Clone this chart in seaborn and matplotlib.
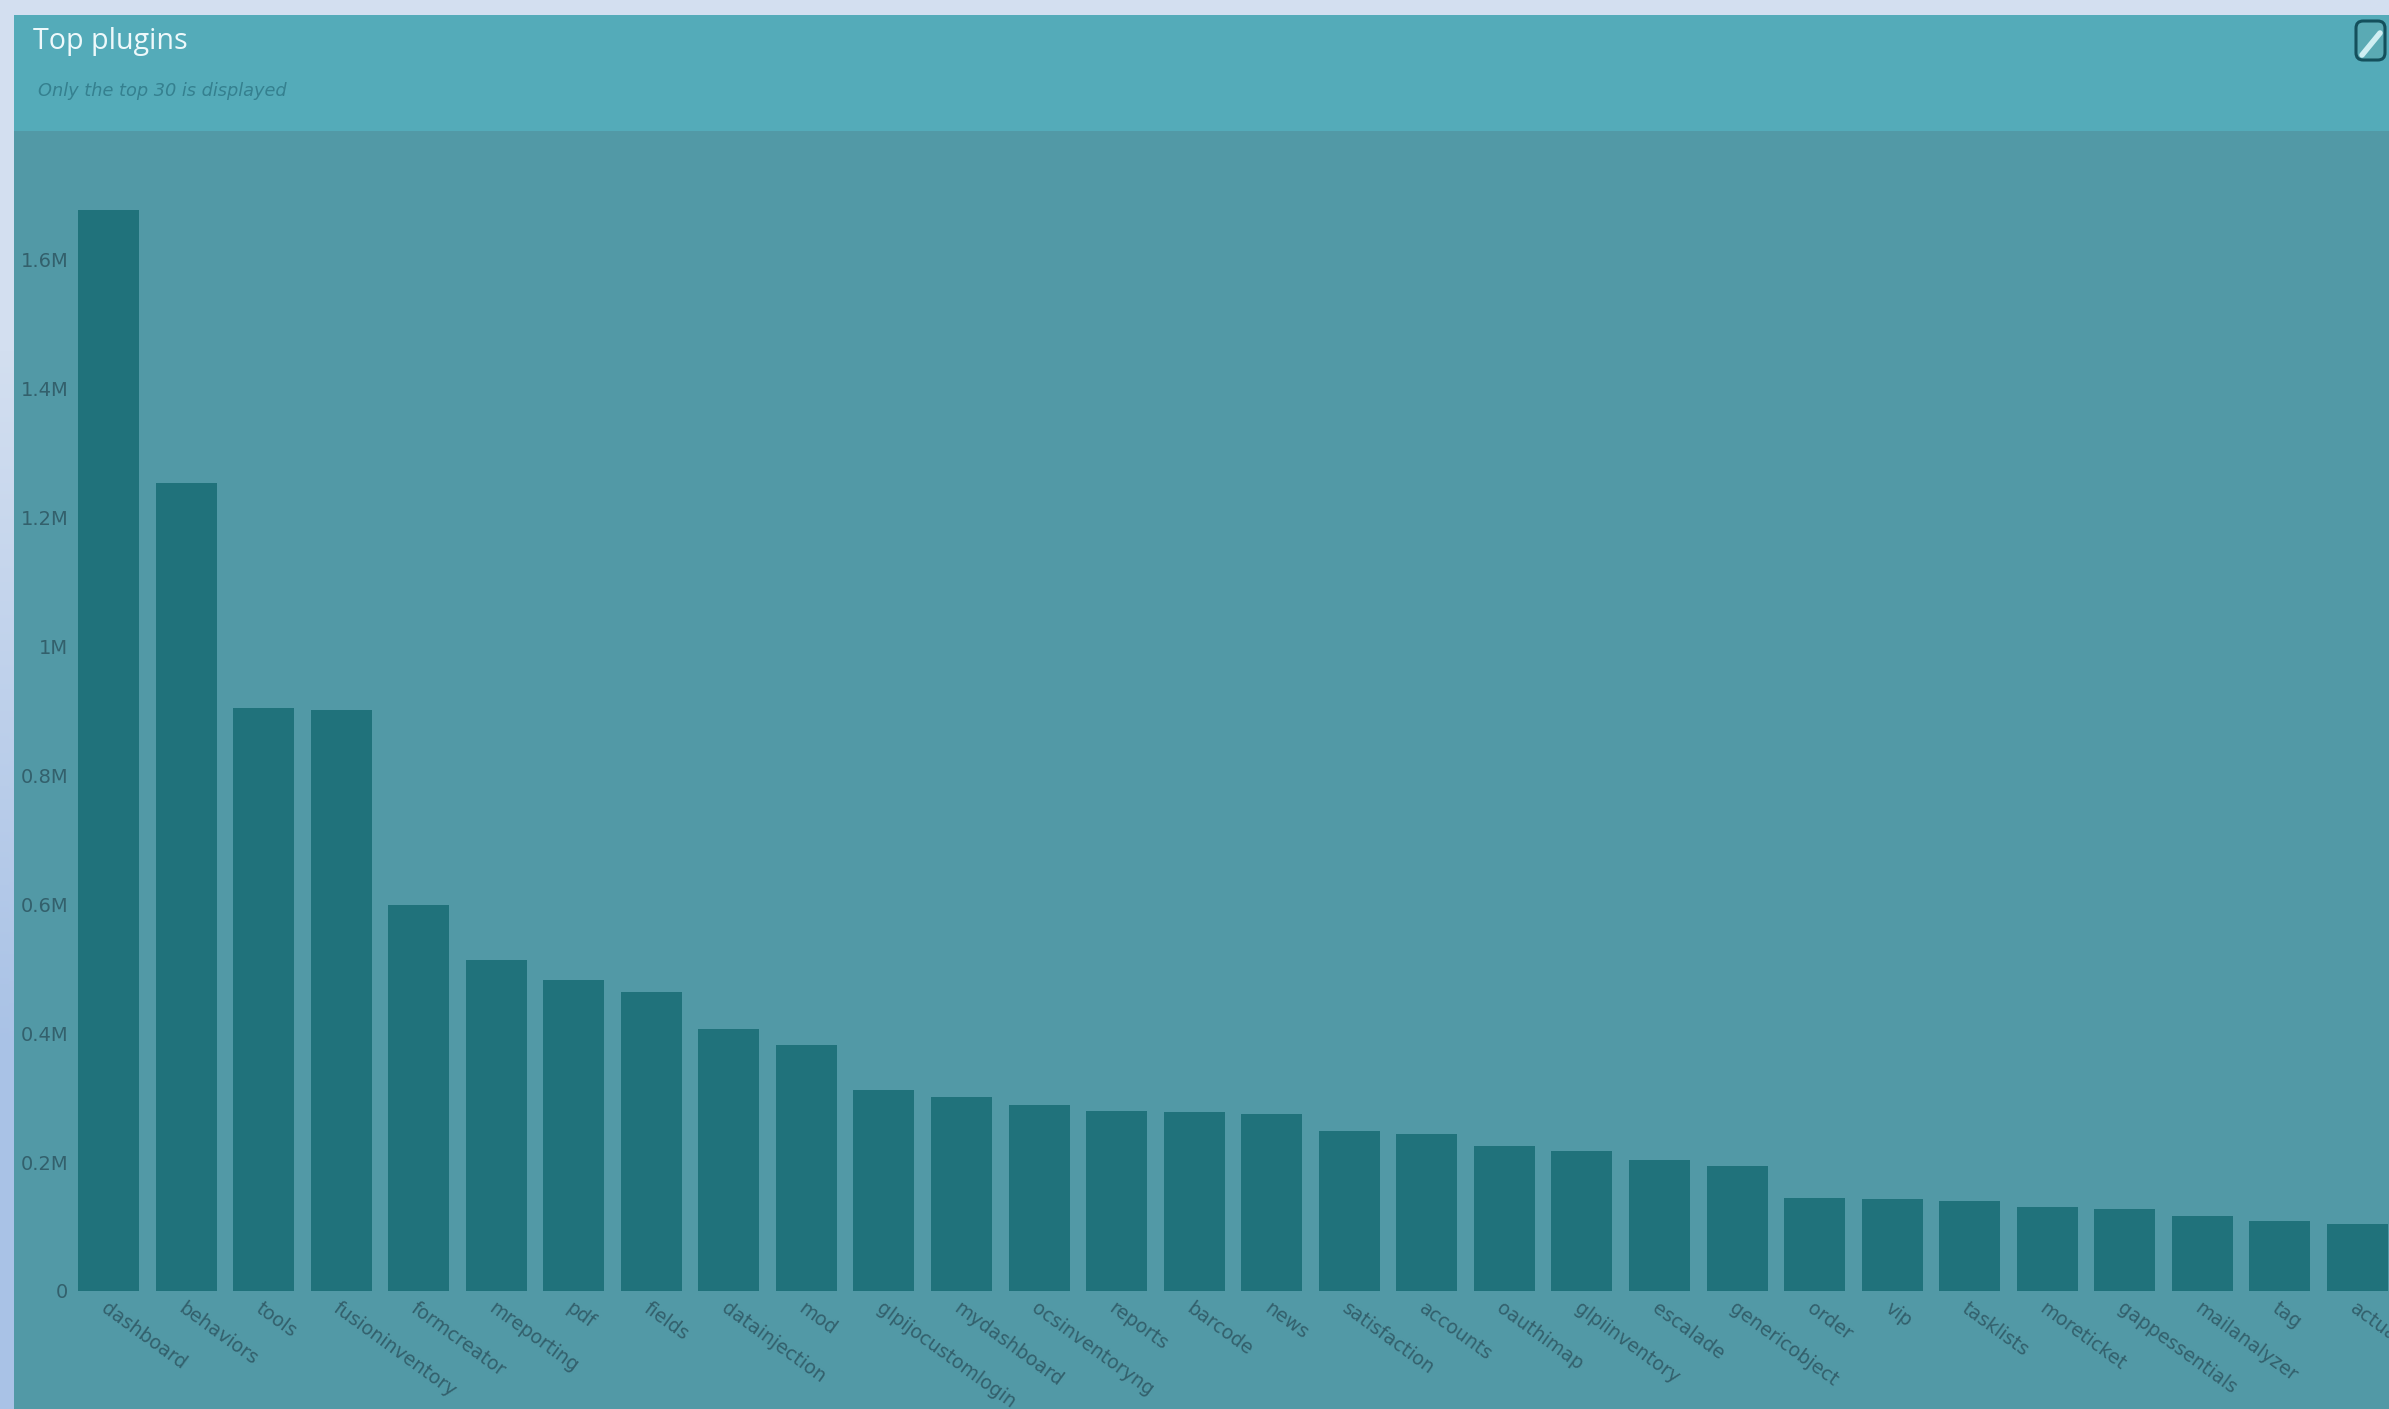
import matplotlib
matplotlib.use("Agg")
import matplotlib.pyplot as plt
from matplotlib.colors import LinearSegmentedColormap
from matplotlib.patches import Rectangle, FancyBboxPatch
from matplotlib.ticker import FuncFormatter
import numpy as np
import pandas as pd
import seaborn as sns

plugins = ["dashboard", "behaviors", "tools", "fusioninventory", "formcreator", "mreporting", "pdf",
           "fields", "datainjection", "mod", "glpijocustomlogin", "mydashboard", "ocsinventoryng",
           "reports", "barcode", "news", "satisfaction", "accounts", "oauthimap", "glpiinventory",
           "escalade", "genericobject", "order", "vip", "tasklists", "moreticket", "gappessentials",
           "mailanalyzer", "tag", "actualtime"]
installs = [1.678, 1.254, 0.904, 0.902, 0.599, 0.514, 0.483, 0.464, 0.407, 0.381,
            0.312, 0.301, 0.289, 0.279, 0.277, 0.275, 0.249, 0.244, 0.225, 0.218,
            0.204, 0.194, 0.144, 0.142, 0.140, 0.130, 0.128, 0.116, 0.109, 0.104]
y_ticks = [0, 0.2, 0.4, 0.6, 0.8, 1.0, 1.2, 1.4, 1.6]
title = "Top plugins"
subtitle = "Only the top 30 is displayed"

W, H = 2389, 1409
sns.set_theme(style="white")
plt.rcParams["font.family"] = ["DejaVu Sans"]
fig = plt.figure(figsize=(W / 100, H / 100), dpi=100, facecolor="#c3d3ea")

def fx(p): return p / W
def fy(p): return 1 - p / H

# page margin gradient
bg = fig.add_axes([0, 0, 1, 1], zorder=0)
bg.imshow(np.array([[0.0], [1.0]]), aspect="auto", extent=(0, 1, 0, 1), interpolation="bilinear",
          cmap=LinearSegmentedColormap.from_list("p", ["#d3dff0", "#a9c2e6"]))
bg.axis("off")

fig.add_artist(Rectangle((fx(14), 0), 1, fy(15), transform=fig.transFigure, fc="#5299a6", ec="none", zorder=1))
fig.add_artist(Rectangle((fx(14), fy(131)), 1, fy(15) - fy(131), transform=fig.transFigure, fc="#54abb9", ec="none", zorder=1))

x0, x1 = 69.7, 69.7 + 30 * 77.55
ax = fig.add_axes([fx(x0), fy(1291), fx(x1 - x0), fy(131) - fy(1291)], zorder=2)
ax.patch.set_alpha(0)
df = pd.DataFrame({"plugin": plugins, "installs": installs})
sns.barplot(data=df, x="plugin", y="installs", color="#20727b", saturation=1, width=0.787,
            linewidth=0, edgecolor="none", ax=ax)
ax.set_xlim(-0.5, 29.5)
ax.set_ylim(0, 1.8)
ax.set_xlabel("")
ax.set_ylabel("")
for s in ax.spines.values():
    s.set_visible(False)
ax.set_yticks(y_ticks)
ax.yaxis.set_major_formatter(FuncFormatter(lambda v, _: "0" if v == 0 else ("1M" if abs(v - 1) < 1e-6 else f"{v:.1f}M")))
ax.tick_params(axis="y", length=0, pad=1, labelsize=14, labelcolor="#33606c")
ax.tick_params(axis="x", length=0, pad=7, labelsize=13.6, labelcolor="#33606c")
ax.set_xticks(range(len(plugins)))
ax.set_xticklabels(plugins, rotation=-36, ha="left", va="top", rotation_mode="anchor")
for lab in ax.get_xticklabels():
    lab.set_transform(lab.get_transform() + matplotlib.transforms.ScaledTranslation(0.0, 0.02, fig.dpi_scale_trans))

fig.text(fx(33), fy(42), title, color="#eef9fb", fontsize=20.6, va="center", ha="left", family="Open Sans", zorder=3)
fig.text(fx(38), fy(91), subtitle, color="#35808f", fontsize=12.8, style="italic", va="center", ha="left", zorder=3)

# expand button
fig.add_artist(FancyBboxPatch((fx(2356), fy(60)), fx(29), fy(21) - fy(60),
               boxstyle="round,pad=0,rounding_size=0.003", transform=fig.transFigure,
               fc="#5aaab4", ec="#14505c", lw=2.2, mutation_aspect=1.7, zorder=3))
fig.add_artist(plt.Line2D([fx(2362), fx(2380)], [fy(55), fy(33)], transform=fig.transFigure,
                          color="#cfeef2", lw=4, zorder=4))

fig.savefig("out.png", dpi=100, facecolor=fig.get_facecolor())
